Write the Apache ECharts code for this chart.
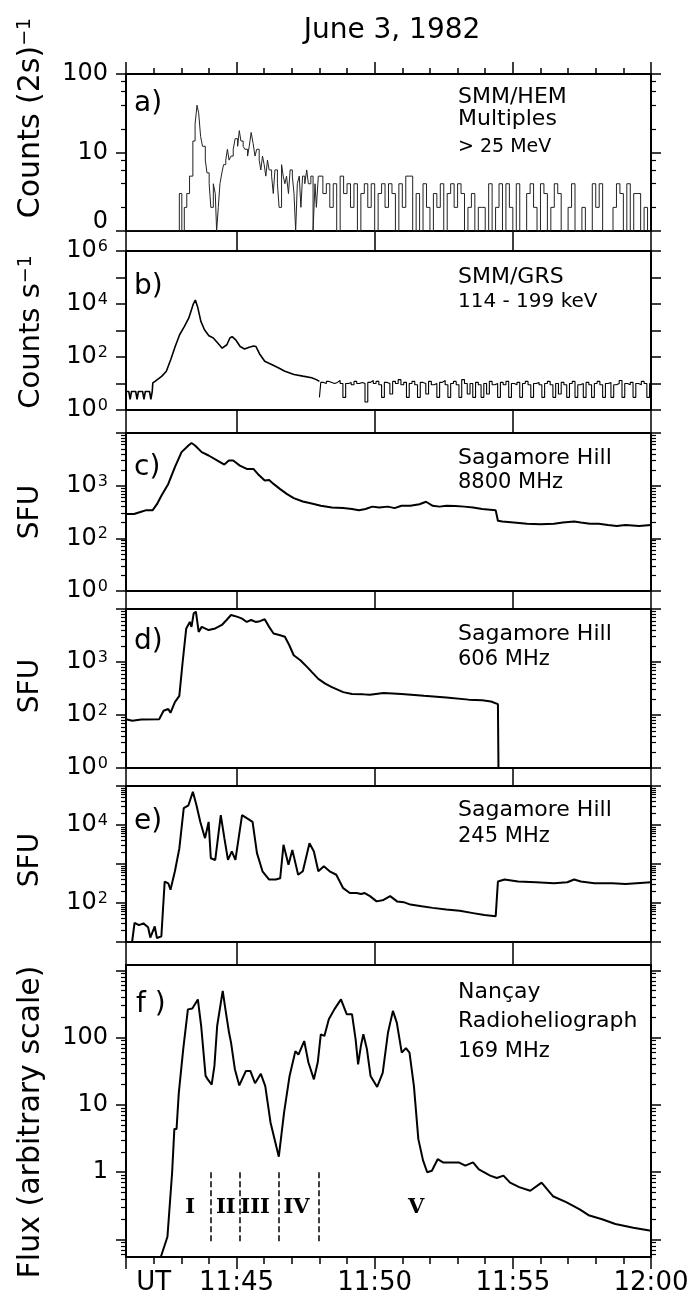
<!DOCTYPE html>
<html>
<head>
<meta charset="utf-8">
<script src="https://cdn.jsdelivr.net/npm/echarts@6/dist/echarts.min.js"></script>
<style>
  html, body { margin: 0; background: #fff; }
  #chart { width: 698px; height: 1299px; }
</style>
</head>
<body>
<div id="chart"></div>
<script>
// time axis: minutes after 11:00 UT
const FONT = 'DejaVu Sans'

// a) SMM/HEM multiples > 25 MeV, counts (2 s)^-1, baseline drawn at 1 ("0")
const hemRise = [[41, 1], [42.93, 3], [43.02, 1], [43.11, 2], [43.2, 3], [43.3, 5], [43.42, 14], [43.5, 23], [43.57, 40],
  [43.63, 32], [43.7, 16], [43.77, 12], [43.87, 8], [43.93, 5.5], [44.01, 4], [44.07, 2], [44.16, 4], [44.23, 3], [44.28, 1],
  [44.34, 2], [44.4, 4], [44.47, 5.5], [44.53, 7], [44.61, 8], [44.67, 11], [44.73, 8], [44.8, 9], [44.88, 11], [44.95, 15],
  [45.04, 12], [45.1, 19], [45.16, 14], [45.24, 12], [45.3, 11], [45.4, 9], [45.46, 12], [45.53, 18], [45.6, 13], [45.67, 9],
  [45.73, 11], [45.82, 8], [45.88, 6], [45.94, 9], [46.0, 7], [46.06, 5], [46.12, 8], [46.18, 6], [46.27, 5], [46.33, 3],
  [46.39, 6], [46.48, 4], [46.54, 2], [46.63, 7], [46.69, 5], [46.75, 4], [46.81, 5], [46.88, 3], [46.94, 6], [47.02, 5],
  [47.08, 3], [47.14, 1], [47.2, 4], [47.27, 5], [47.33, 2], [47.39, 5], [47.47, 4], [47.54, 6], [47.6, 4], [47.69, 5],
  [47.77, 1], [47.84, 4], [47.89, 2], [47.96, 5]]
const hemTailStart = 48
const hemTailStep = 0.125
const hemTail = [5, 3, 4, 2, 4, 1, 5, 3, 4, 2, 4, 1, 3, 4, 2, 4, 1, 3, 4, 2, 4, 3, 1, 4, 2, 5, 5, 1, 3, 1,
  4, 2, 1, 3, 2, 4, 1, 3, 4, 2, 4, 3, 1, 2, 3, 1, 2, 2, 1, 4, 1, 2, 4, 1, 4, 2, 1, 4, 1, 1,
  3, 4, 2, 1, 4, 3, 1, 2, 4, 3, 1, 1, 2, 4, 1, 1, 2, 1, 1, 4, 2, 4, 1, 1, 1, 2, 4, 3, 1, 4,
  1, 3, 3, 1, 2, 1, 1]

// b) SMM/GRS 114-199 keV, counts s^-1
const grsRise = [[41, 5], [41.1, 5], [41.15, 2.5], [41.2, 5], [41.35, 5], [41.4, 2.5], [41.45, 5], [41.6, 5], [41.65, 2.5],
  [41.7, 5], [41.85, 5], [41.9, 2.5], [41.95, 5], [41.97, 10.6], [42.05, 12], [42.3, 19], [42.46, 29], [42.62, 80],
  [42.78, 250], [42.94, 690], [43.11, 1400], [43.27, 2900], [43.43, 9600], [43.51, 14000], [43.59, 7950], [43.71, 2200],
  [43.84, 1070], [44.0, 630], [44.16, 520], [44.32, 335], [44.48, 215], [44.65, 290], [44.76, 520], [44.84, 590],
  [44.97, 445], [45.13, 250], [45.29, 200], [45.46, 235], [45.62, 260], [45.7, 250], [45.83, 133], [46.02, 69],
  [46.27, 52], [46.51, 39], [46.75, 29], [47.08, 22], [47.4, 19], [47.72, 16.5], [47.89, 14], [48.0, 12]]
const grsTailStart = 48
const grsTailStep = 0.1
const grsTail = [3, 11, 10, 12, 11, 10, 11, 13, 10, 3, 10, 11, 9, 12, 10, 11, 10, 2, 11, 13,
  10, 12, 9, 3, 11, 10, 4, 12, 10, 14, 9, 11, 3, 10, 12, 9, 3, 11, 10, 4,
  12, 9, 10, 3, 11, 13, 9, 3, 10, 12, 9, 3, 14, 10, 4, 10, 3, 11, 9, 3,
  10, 4, 12, 9, 10, 3, 11, 9, 12, 3, 10, 9, 11, 3, 10, 12, 9, 3, 10, 11,
  9, 3, 10, 12, 9, 3, 10, 4, 11, 9, 3, 10, 12, 3, 9, 10, 3, 11, 9, 3,
  10, 12, 9, 3, 10, 11, 3, 9, 10, 13, 3, 10, 9, 11, 3, 10, 9, 12, 10, 3, 10]

// c) Sagamore Hill 8800 MHz, SFU
const sag8800 = [[41, 290], [41.29, 290], [41.55, 320], [41.71, 340], [41.96, 340], [42.12, 445], [42.28, 645], [42.53, 1080],
  [42.77, 2240], [43.01, 4330], [43.26, 5800], [43.37, 6450], [43.5, 5800], [43.74, 4330], [43.99, 3740], [44.31, 3000],
  [44.56, 2520], [44.72, 3000], [44.88, 3000], [45.12, 2400], [45.37, 2080], [45.61, 2080], [45.77, 1670], [46.02, 1250],
  [46.18, 1280], [46.34, 1080], [46.58, 860], [46.83, 690], [47.07, 580], [47.4, 500], [47.72, 460], [48.05, 415],
  [48.45, 385], [48.86, 375], [49.18, 360], [49.43, 340], [49.67, 360], [49.91, 400], [50.16, 385], [50.48, 400],
  [50.72, 375], [50.97, 415], [51.29, 415], [51.62, 445], [51.86, 495], [52.1, 415], [52.35, 400], [52.59, 415],
  [52.92, 410], [53.24, 400], [53.56, 385], [53.89, 360], [54.38, 340], [54.46, 215], [54.62, 208], [55.03, 200],
  [55.51, 190], [56.0, 185], [56.49, 190], [56.81, 200], [57.22, 208], [57.46, 200], [57.79, 190], [58.11, 190],
  [58.44, 180], [58.76, 172], [59.08, 180], [59.57, 172], [60, 180]]

// d) Sagamore Hill 606 MHz, SFU
const sag606 = [[41, 83], [41.23, 78], [41.55, 82], [42.2, 83], [42.36, 120], [42.53, 130], [42.61, 110], [42.77, 175],
  [42.93, 230], [43.05, 1000], [43.18, 4300], [43.31, 5700], [43.37, 4600], [43.45, 8300], [43.53, 8900], [43.63, 3700],
  [43.74, 4600], [43.99, 4000], [44.23, 4300], [44.47, 5000], [44.64, 6200], [44.8, 7700], [45.04, 7100], [45.2, 6600],
  [45.37, 5700], [45.53, 6200], [45.69, 5700], [45.85, 5900], [46.02, 6400], [46.18, 4600], [46.34, 3450], [46.58, 3200],
  [46.75, 3000], [46.91, 2070], [47.07, 1340], [47.31, 1080], [47.56, 800], [47.72, 650], [47.96, 480], [48.21, 390],
  [48.45, 335], [48.86, 270], [49.18, 250], [49.59, 245], [49.83, 240], [50.32, 260], [50.97, 250], [51.78, 230],
  [52.59, 215], [53.4, 195], [53.89, 190], [54.21, 180], [54.46, 160], [54.48, 10]]

// e) Sagamore Hill 245 MHz, SFU
const sag245 = [[41.22, 10], [41.31, 31], [41.47, 27], [41.63, 30], [41.8, 24], [41.88, 13], [42.04, 25], [42.12, 12.6],
  [42.28, 14], [42.4, 355], [42.53, 320], [42.61, 218], [42.77, 650], [42.93, 2500], [43.09, 27000], [43.26, 32000],
  [43.42, 71000], [43.55, 32000], [43.69, 12000], [43.86, 4600], [43.99, 12000], [44.07, 1400], [44.23, 1270],
  [44.43, 18000], [44.56, 4600], [44.69, 1270], [44.83, 2100], [44.96, 1270], [45.2, 18000], [45.37, 15000],
  [45.58, 12000], [45.74, 1900], [45.94, 650], [46.18, 400], [46.42, 400], [46.58, 430], [46.7, 3100], [46.88, 960],
  [47.02, 2300], [47.23, 530], [47.4, 650], [47.64, 3400], [47.8, 2100], [47.96, 650], [48.16, 870], [48.37, 650],
  [48.61, 530], [48.86, 240], [49.1, 180], [49.34, 180], [49.51, 170], [49.64, 180], [49.83, 150], [50.07, 110],
  [50.32, 120], [50.56, 150], [50.81, 110], [51.05, 105], [51.29, 91], [51.7, 82], [52.1, 75], [52.59, 68], [53.08, 63],
  [53.56, 55], [53.97, 49], [54.38, 46], [54.46, 355], [54.7, 400], [55.19, 355], [55.84, 340], [56.49, 320],
  [56.97, 340], [57.22, 400], [57.46, 355], [57.95, 320], [58.6, 320], [59.08, 305], [60, 340]]

// f) Nancay Radioheliograph 169 MHz, arbitrary flux
const nancay = [[42.26, 0.055], [42.5, 0.11], [42.67, 1.0], [42.75, 4.4], [42.83, 4.4], [42.91, 15], [43.07, 67], [43.24, 263],
  [43.4, 270], [43.6, 370], [43.72, 150], [43.88, 27], [43.96, 24], [44.1, 20], [44.2, 38], [44.3, 150], [44.5, 494],
  [44.6, 260], [44.73, 118], [44.8, 85], [44.94, 34], [45.1, 19.5], [45.34, 32], [45.5, 32], [45.67, 21], [45.88, 29],
  [46.04, 19], [46.23, 5.5], [46.53, 1.7], [46.72, 7.7], [46.92, 27], [47.13, 63], [47.24, 56], [47.45, 89], [47.6, 43],
  [47.8, 24], [47.94, 43], [48.05, 112], [48.18, 106], [48.34, 187], [48.54, 263], [48.78, 370], [48.99, 222],
  [49.18, 222], [49.31, 94], [49.4, 40], [49.5, 75], [49.59, 112], [49.72, 67], [49.85, 27], [50.09, 18.5], [50.29, 30],
  [50.48, 118], [50.66, 250], [50.8, 167], [50.98, 60], [51.13, 70], [51.26, 60], [51.42, 19], [51.58, 3.1], [51.75, 1.5],
  [51.9, 1.0], [52.07, 1.05], [52.28, 1.56], [52.47, 1.4], [53.04, 1.4], [53.28, 1.25], [53.56, 1.4], [53.77, 1.1],
  [54.18, 0.89], [54.42, 0.82], [54.66, 0.89], [54.9, 0.7], [55.23, 0.6], [55.63, 0.53], [56.04, 0.7], [56.45, 0.44],
  [56.93, 0.36], [57.42, 0.28], [57.74, 0.23], [58.23, 0.2], [58.71, 0.17], [59.36, 0.15], [60, 0.135]]

// burst phases in f)
const phaseBounds = [44.08, 45.12, 46.53, 47.99]
const phaseLineTop = 1
const phaseLineBottom = 0.09
const phaseNames = ['I', 'II', 'III', 'IV', 'V']
const phaseCentres = [43.32, 44.61, 45.67, 47.17, 51.5]
const phaseLabelLevel = 0.3

// x ticks / labels
const xMajorTicks = [41, 45, 50, 55, 60]
const xMinorTicks = [42, 43, 44, 46, 47, 48, 49, 51, 52, 53, 54, 56, 57, 58, 59]
const xLabelValues = [42, 45, 50, 55, 60]
const xLabelTexts = ['UT', '11:45', '11:50', '11:55', '12:00']

// y ticks / labels per panel ({s|..} = superscript exponent)
const decadeMinors = decades => decades.flatMap(d => [2, 3, 4, 5, 6, 7, 8, 9].map(k => k * d))
const panels = [
  { min: 1, max: 100, major: [1, 10, 100], minor: [2, 4, 6, 8, 20, 40, 60, 80],
    labelValues: [100, 10, 1], labelTexts: ['100', '10', '{z|0}'] },
  { min: 1, max: 1e6, major: [1, 10, 100, 1e3, 1e4, 1e5, 1e6], minor: [],
    labelValues: [1e6, 1e4, 100, 1], labelTexts: ['10{s|6}', '10{s|4}', '10{s|2}', '10{s|0}'] },
  { min: 10, max: 1e4, major: [10, 100, 1e3, 1e4], minor: decadeMinors([10, 100, 1000]),
    labelValues: [1000, 100, 10], labelTexts: ['10{s|3}', '10{s|2}', '10{s|0}'] },
  { min: 10, max: 1e4, major: [10, 100, 1e3, 1e4], minor: decadeMinors([10, 100, 1000]),
    labelValues: [1000, 100, 10], labelTexts: ['10{s|3}', '10{s|2}', '10{s|0}'] },
  { min: 10, max: 1e5, major: [10, 100, 1e3, 1e4, 1e5], minor: decadeMinors([10, 100, 1000, 1e4]),
    labelValues: [1e4, 100], labelTexts: ['10{s|4}', '10{s|2}'] },
  { min: 0.055, max: 1200, major: [0.1, 1, 10, 100, 1000], minor: decadeMinors([0.01, 0.1, 1, 10, 100]),
    labelValues: [100, 10, 1], labelTexts: ['100', '10', '1'] }
]

const grids = [
  { top: 74, height: 157 },
  { top: 251, height: 159 },
  { top: 433, height: 158 },
  { top: 609, height: 159 },
  { top: 786, height: 156 },
  { top: 965, height: 292 }
].map(g => Object.assign({ left: 126, right: 47, outerBoundsMode: 'none' }, g))

const black = '#000'

function xAxisFor(grid, position, ticks, tickLen, withLine, labels) {
  return {
    gridIndex: grid, type: 'value', min: 41, max: 60, position: position,
    splitLine: { show: false },
    axisLine: { show: withLine, onZero: false, lineStyle: { color: black, width: 2 } },
    axisTick: { show: true, customValues: ticks, length: tickLen, lineStyle: { color: black, width: 1.5 } },
    axisLabel: labels ? {
      show: true, customValues: xLabelValues, margin: 13, fontFamily: FONT, fontSize: 26, color: black,
      formatter: v => xLabelTexts[xLabelValues.indexOf(v)] || ''
    } : { show: false }
  }
}

function yAxesFor(grid, p) {
  const lo = p.min * 0.9999
  const hi = p.max * 1.0001
  const inRange = arr => arr.filter(v => v >= p.min * 0.999 && v <= p.max * 1.001)
  const base = { gridIndex: grid, type: 'log', logBase: 10, min: lo, max: hi, splitLine: { show: false } }
  const mainLabel = {
    show: true, customValues: p.labelValues, margin: 18, fontFamily: FONT, fontSize: 24, color: black,
    formatter: v => {
      const k = p.labelValues.findIndex(x => Math.abs(Math.log10(x) - Math.log10(v)) < 0.01)
      return k >= 0 ? p.labelTexts[k] : ''
    },
    rich: {
      z: { fontFamily: FONT, fontSize: 24, color: black, padding: [0, 0, 18, 0] },
      s: { fontFamily: FONT, fontSize: 16, color: black, verticalAlign: 'top', padding: [0, 0, 0, 1] }
    }
  }
  const axes = []
  ;['left', 'right'].forEach(side => {
    axes.push(Object.assign({}, base, {
      position: side,
      axisLine: { show: true, lineStyle: { color: black, width: 2 } },
      axisTick: { show: true, customValues: inRange(p.major), length: 10, lineStyle: { color: black, width: 1.5 } },
      axisLabel: side === 'left' ? mainLabel : { show: false }
    }))
    axes.push(Object.assign({}, base, {
      position: side,
      axisLine: { show: false },
      axisTick: { show: p.minor.length > 0, customValues: inRange(p.minor), length: 5, lineStyle: { color: black, width: 1.2 } },
      axisLabel: { show: false }
    }))
  })
  return axes
}

const xAxes = []
const yAxes = []
grids.forEach((g, i) => {
  xAxes.push(xAxisFor(i, 'bottom', xMajorTicks, 12, true, i === 5))
  xAxes.push(xAxisFor(i, 'top', xMajorTicks, 12, true, false))
  yAxesFor(i, panels[i]).forEach(a => yAxes.push(a))
})
xAxes.push(xAxisFor(0, 'top', xMinorTicks, 6, false, false))
xAxes.push(xAxisFor(5, 'bottom', xMinorTicks, 7, false, false))

const hemData = hemRise.concat(hemTail.map((v, i) => [hemTailStart + i * hemTailStep, v]))
const grsTailData = grsTail.map((v, i) => [grsTailStart + i * grsTailStep, v])

function curve(panel, data, width, extra) {
  return Object.assign({
    type: 'line', xAxisIndex: panel * 2, yAxisIndex: panel * 4, data: data,
    symbol: 'none', showSymbol: false, silent: true,
    lineStyle: { color: black, width: width }
  }, extra || {})
}

const supRich = { s: { fontFamily: FONT, fontSize: 19, fill: black, verticalAlign: 'top' } }

function txt(x, y, text, size, align, extra) {
  return Object.assign({
    type: 'text', x: x, y: y, silent: true,
    style: {
      text: text, fontFamily: FONT, fontSize: size, fill: black,
      align: align, textAlign: align, verticalAlign: 'middle', textVerticalAlign: 'middle',
      rich: supRich
    }
  }, extra || {})
}

const rotated = { rotation: Math.PI / 2 }
const annoX = 458
const graphics = [
  txt(392, 31, 'June 3, 1982', 28, 'center'),
  txt(31, 118, 'Counts (2s){s|−1}', 30, 'center', rotated),
  txt(31, 332, 'Counts s{s|−1}', 29, 'center', rotated),
  txt(31, 512, 'SFU', 28, 'center', rotated),
  txt(31, 686, 'SFU', 28, 'center', rotated),
  txt(31, 860, 'SFU', 28, 'center', rotated),
  txt(31, 1122, 'Flux (arbitrary scale)', 30, 'center', rotated),
  txt(134, 104, 'a)', 28, 'left'),
  txt(134, 287, 'b)', 28, 'left'),
  txt(134, 468, 'c)', 28, 'left'),
  txt(134, 642, 'd)', 28, 'left'),
  txt(134, 822, 'e)', 28, 'left'),
  txt(136, 1005, 'f )', 28, 'left'),
  txt(annoX, 97, 'SMM/HEM', 22, 'left'),
  txt(annoX, 119, 'Multiples', 22, 'left'),
  txt(annoX, 147, '> 25 MeV', 19, 'left'),
  txt(annoX, 277, 'SMM/GRS', 22, 'left'),
  txt(annoX, 302, '114 - 199 keV', 20, 'left'),
  txt(annoX, 458, 'Sagamore Hill', 22, 'left'),
  txt(annoX, 483, '8800 MHz', 21, 'left'),
  txt(annoX, 634, 'Sagamore Hill', 22, 'left'),
  txt(annoX, 660, '606 MHz', 21, 'left'),
  txt(annoX, 810, 'Sagamore Hill', 22, 'left'),
  txt(annoX, 837, '245 MHz', 21, 'left'),
  txt(annoX, 992, 'Nançay', 22, 'left'),
  txt(annoX, 1021, 'Radioheliograph', 22, 'left'),
  txt(annoX, 1052, '169 MHz', 21, 'left')
]

const chart = echarts.init(document.getElementById('chart'), null, { renderer: 'canvas' })
chart.setOption({
  animation: false,
  backgroundColor: '#fff',
  grid: grids,
  xAxis: xAxes,
  yAxis: yAxes,
  graphic: graphics,
  series: [
    curve(0, hemData, 1, { step: 'end', lineStyle: { color: '#222', width: 1 } }),
    curve(1, grsRise, 1.6),
    curve(1, grsTailData, 1.1, { step: 'middle' }),
    curve(2, sag8800, 2),
    curve(3, sag606, 2),
    curve(4, sag245, 2),
    curve(5, nancay, 2, {
      markLine: {
        silent: true, symbol: 'none', label: { show: false },
        lineStyle: { color: black, width: 1.5, type: 'dashed' },
        data: phaseBounds.map(t => [{ coord: [t, phaseLineTop] }, { coord: [t, phaseLineBottom] }])
      }
    }),
    {
      type: 'scatter', xAxisIndex: 10, yAxisIndex: 20, silent: true,
      symbolSize: 1, itemStyle: { color: '#fff' },
      data: phaseNames.map((n, i) => [phaseCentres[i], phaseLabelLevel, n]),
      label: {
        show: true, position: 'inside', formatter: p => p.value[2],
        fontFamily: 'DejaVu Serif', fontWeight: 'bold', fontSize: 21, color: black,
        textBorderWidth: 0, opacity: 1
      }
    }
  ]
})
</script>
</body>
</html>
